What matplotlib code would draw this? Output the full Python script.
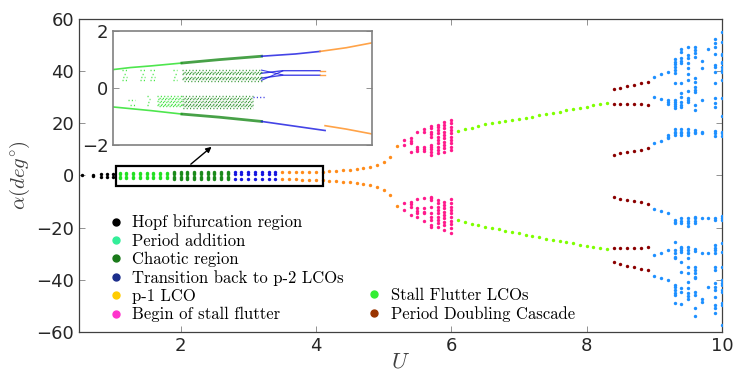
import matplotlib
matplotlib.use('Agg')
import matplotlib.pyplot as plt
from matplotlib.lines import Line2D
from matplotlib.patches import Rectangle

plt.rcParams['font.family'] = 'DejaVu Sans'
plt.rcParams['mathtext.fontset'] = 'cm'

# ---- main bifurcation diagram (one column of alpha values per U) ----
hopf_u = [0.55, 0.7, 0.82, 0.91, 1.0]
hopf_a = [[0.0], [0.2, -0.3], [0.4, -0.5], [0.5, -0.6], [0.6, -0.7]]

add_u = [1.1, 1.2, 1.3, 1.4, 1.5, 1.6, 1.7, 1.8]
add_a = [0.9, 0.45, -0.45, -0.9]

chaos_u = [1.9, 2.0, 2.1, 2.2, 2.3, 2.4, 2.5, 2.6, 2.7]
chaos_a = [1.2, 0.8, 0.4, -0.4, -0.8, -1.2]

trans_u = [2.8, 2.9, 3.0, 3.1, 3.2, 3.3, 3.4]
trans_a = [1.2, 0.6, -1.3]

p1_u = [3.5, 3.6, 3.7, 3.8, 3.9, 4.0, 4.1, 4.2, 4.3, 4.4, 4.5, 4.6, 4.7, 4.8, 4.9, 5.0, 5.1, 5.2]
p1_up = [1.25, 1.28, 1.3, 1.33, 1.37, 1.4, 1.46, 1.6, 1.73, 2.0, 2.2, 2.5, 2.9, 3.4, 4.1, 5.2, 7.2, 11.3]
p1_lo = [-1.4, -1.45, -1.5, -1.55, -1.6, -1.7, -1.85, -2.0, -2.1, -2.4, -2.6, -2.9, -3.2, -3.8, -4.5, -5.7, -7.6, -11.7]

begin_u = [5.3, 5.4, 5.5, 5.6, 5.7, 5.8, 5.9, 6.0]
begin_a = [
    [13.6, 11.6, -10.7, -13.3],
    [14.3, 13.4, 12.4, 9.1, -10.1, -10.9, -12.0, -15.2],
    [16.6, 10.8, 10.1, 9.4, -9.0, -12.6, -13.5, -14.3, -16.1],
    [17.9, 16.8, 10.8, 10.1, 9.4, -8.8, -12.6, -13.9, -14.5, -17.4],
    [19.0, 18.1, 16.8, 15.9, 14.9, 11.7, 11.1, 10.1, 9.1, 7.9,
     -8.1, -8.8, -9.4, -12.0, -14.5, -15.8, -17.1, -19.0, -19.7],
    [19.4, 18.7, 17.5, 16.2, 14.9, 13.6, 12.4, 11.1, 9.8, 8.8,
     -9.4, -10.7, -12.0, -13.3, -14.5, -15.8, -17.1, -18.4, -19.7],
    [20.7, 19.4, 18.1, 16.8, 15.6, 14.3, 13.0, 11.7, 10.4, 9.1,
     -10.1, -11.3, -12.6, -13.9, -15.2, -16.4, -17.7, -19.0, -20.9],
    [21.3, 20.1, 18.7, 17.5, 16.2, 14.9, 13.6, 12.4, 11.1, 9.8,
     -9.1, -10.6, -12.0, -13.3, -14.5, -15.9, -17.3, -18.6, -20.0, -22.2],
]

stall_u = [6.1, 6.2, 6.3, 6.4, 6.5, 6.6, 6.7, 6.8, 6.9, 7.0, 7.1, 7.2, 7.3, 7.4, 7.5, 7.6,
           7.7, 7.8, 7.9, 8.0, 8.1, 8.2, 8.3]
stall_up = [17.1, 17.7, 18.4, 19.0, 19.7, 20.1, 20.4, 20.8, 21.3, 21.7, 22.2, 22.6, 23.1, 23.6,
            24.1, 24.5, 25.0, 25.4, 25.9, 26.4, 27.0, 27.5, 28.0]
stall_lo = [-17.2, -17.9, -18.7, -19.2, -19.7, -20.2, -20.7, -21.2, -21.7, -22.2, -22.7, -23.3,
            -23.8, -24.3, -24.7, -25.2, -25.6, -26.1, -26.6, -27.0, -27.4, -27.9, -28.4]

pd_u = [8.4, 8.5, 8.6, 8.7, 8.8, 8.9]
pd_branches = [
    [33.1, 33.7, 34.4, 34.9, 35.5, 36.0],
    [27.5, 27.6, 27.6, 27.6, 27.5, 27.0],
    [8.0, 8.5, 8.9, 9.4, 9.9, 10.4],
    [-8.4, -8.9, -9.4, -9.9, -10.3, -10.8],
    [-27.9, -28.0, -28.0, -28.0, -27.9, -27.6],
    [-33.3, -34.0, -34.7, -35.3, -35.8, -36.4],
]

blue_u = [9.0, 9.1, 9.2, 9.3, 9.4, 9.5, 9.6, 9.7, 9.8, 9.9, 10.0]
blue_a = [
    [38.0, 30.0, 12.6, -13.0, -30.5, -38.5],
    [38.9, 29.4, 13.3, -13.6, -29.9, -39.3],
    [39.9, 29.0, 28.4, 27.5, 15.6, 14.9, 14.3, -14.5, -28.6, -40.2],
    [44.6, 43.7, 42.8, 41.8, 40.5, 39.5, 35.7, 29.0, 28.4, 27.5, 26.7, 25.8, 17.7, 16.8, 16.2, 15.6,
     -17.1, -17.7, -18.4, -25.4, -28.6, -29.9, -31.2, -31.8, -42.1, -43.0, -44.0, -45.0, -45.9, -48.9],
    [48.5, 47.6, 45.0, 44.1, 43.1, 35.4, 31.6, 30.3, 28.4, 27.1, 26.2, 17.7, 16.8, 16.2, 15.6,
     -16.5, -17.4, -18.4, -27.3, -28.0, -28.6, -29.3, -33.1, -37.0, -43.4, -44.6, -49.4],
    [49.5, 46.3, 45.0, 43.1, 41.2, 39.0, 36.7, 32.6, 29.6, 29.0, 28.4, 17.7, 16.8, 16.2, 15.6,
     -16.5, -17.4, -18.4, -19.4, -27.3, -28.6, -29.9, -31.8, -35.0, -37.6, -40.8, -43.4, -45.3,
     -46.3, -47.6],
    [49.5, 48.2, 47.0, 45.6, 37.3, 36.0, 33.9, 32.8, 32.2, 27.1, 25.1, 17.5, 16.8, 16.2,
     -15.8, -16.5, -17.4, -18.1, -28.4, -28.9, -35.0, -36.3, -37.6, -38.9, -39.5, -44.6, -45.9,
     -51.0, -54.0],
    [44.0, 41.2, 29.0, 16.8, 16.2, -16.5, -29.6, -47.6, -48.5],
    [48.6, -16.5, -29.6, -42.7],
    [52.3, 50.8, 49.5, 46.5, 42.5, 41.8, 39.9, 35.7, 29.6, 27.7, 26.2, 17.2, 16.2, 15.2,
     -16.5, -17.1, -26.7, -28.0, -28.6, -29.9, -35.0, -36.3, -41.2, -43.0, -44.0, -46.6, -49.8,
     -51.0, -53.0],
    [55.0, 51.2, 46.6, 46.3, 43.7, 43.1, 41.8, 40.5, 39.9, 36.7, 29.6, 22.9, 16.8, 16.2, 15.2,
     -15.6, -16.5, -17.1, -26.1, -29.3, -35.3, -40.1, -41.2, -42.1, -44.0, -44.6, -48.9, -49.8,
     -57.4],
]

# ---- inset (zoom of 1.05 < U < 4.1) ----
# branches: (colour key, U, alpha, line width)
inset_curves = [
    ('add', [1.05, 1.25, 1.5, 1.86], [0.65, 0.72, 0.78, 0.88], 1.2),
    ('chaos', [1.86, 2.3, 2.8], [0.88, 1.0, 1.12], 2.0),
    ('trans', [2.8, 3.2, 3.49], [1.12, 1.2, 1.29], 1.2),
    ('p1', [3.49, 3.8, 4.1], [1.29, 1.42, 1.59], 1.2),
    ('add', [1.05, 1.5, 1.86], [-0.67, -0.8, -0.92], 1.2),
    ('chaos', [1.86, 2.3, 2.8], [-0.92, -1.03, -1.18], 2.0),
    ('trans', [2.8, 3.2, 3.55], [-1.18, -1.35, -1.5], 1.2),
    ('p1', [3.55, 3.8, 4.1], [-1.33, -1.45, -1.62], 1.2),
    ('trans', [2.8, 3.05, 3.49], [0.52, 0.61, 0.61], 1.0),
    ('trans', [2.8, 3.05, 3.49], [0.35, 0.45, 0.45], 1.0),
    ('trans', [2.8, 3.05], [0.63, 0.46], 0.8),
    ('trans', [2.8, 3.05], [0.27, 0.6], 0.8),
    ('p1', [3.49, 3.55], [0.61, 0.61], 1.0),
    ('p1', [3.49, 3.55], [0.45, 0.45], 1.0),
]
# speckled bands: (colour key, U start, U end, alpha levels)
inset_bands = [
    ('add', 1.15, 1.21, [0.62, 0.5, 0.38, 0.28]),
    ('add', 1.37, 1.42, [0.62, 0.5, 0.38, 0.28]),
    ('add', 1.48, 1.54, [0.62, 0.5, 0.38, 0.28]),
    ('add', 1.75, 1.80, [0.62, 0.5, 0.38, 0.28]),
    ('chaos', 1.86, 2.8, [0.63, 0.58, 0.53, 0.48, 0.40, 0.35, 0.30, 0.25]),
    ('add', 1.22, 1.31, [-0.43, -0.6]),
    ('add', 1.45, 1.48, [-0.3, -0.4, -0.5, -0.6]),
    ('add', 1.57, 1.86, [-0.3, -0.35, -0.4, -0.45, -0.5, -0.55, -0.6, -0.65]),
    ('chaos', 1.86, 2.7, [-0.3, -0.35, -0.4, -0.45, -0.5, -0.55, -0.6, -0.65, -0.7]),
    ('trans', 2.7, 2.84, [-0.33]),
]

plot_colors = {
    'hopf': '#000000', 'add': '#22e022', 'chaos': '#1a8a1a', 'trans': '#1515e0',
    'p1': '#ff8c1a', 'begin': '#ff1a8c', 'stall': '#7fff00', 'pd': '#8b0000',
    'chaos2': '#1e90ff',
}

legend_labels = ['Hopf bifurcation region', 'Period addition', 'Chaotic region',
                 'Transition back to p-2 LCOs', 'p-1 LCO', 'Begin of stall flutter',
                 'Stall Flutter LCOs', 'Period Doubling Cascade']
legend_colors = ['#000000', '#33ee99', '#1a7a1a', '#1c2e8c', '#ffcc00', '#ff33cc',
                 '#33ee33', '#993300']


def draw_cols(ax, us, cols, color, s=6):
    xs, ys = [], []
    for u, vals in zip(us, cols):
        xs += [u] * len(vals)
        ys += list(vals)
    ax.scatter(xs, ys, s=s, c=color, marker='o', linewidths=0, zorder=3)


fig = plt.figure(figsize=(7.35, 3.76), dpi=100)
ax = fig.add_axes([0.1075, 0.1178, 0.8748, 0.8309])

draw_cols(ax, hopf_u, hopf_a, plot_colors['hopf'], s=6)
draw_cols(ax, add_u, [add_a] * len(add_u), plot_colors['add'])
draw_cols(ax, chaos_u, [chaos_a] * len(chaos_u), plot_colors['chaos'])
draw_cols(ax, trans_u, [trans_a] * len(trans_u), plot_colors['trans'])
draw_cols(ax, p1_u, list(zip(p1_up, p1_lo)), plot_colors['p1'])
draw_cols(ax, begin_u, begin_a, plot_colors['begin'])
draw_cols(ax, stall_u, list(zip(stall_up, stall_lo)), plot_colors['stall'])
draw_cols(ax, pd_u, list(zip(*pd_branches)), plot_colors['pd'])
draw_cols(ax, blue_u, blue_a, plot_colors['chaos2'])

ax.set_xlim(0.5, 10)
ax.set_ylim(-60, 60)
ax.set_xticks([2, 4, 6, 8, 10])
ax.set_yticks([-60, -40, -20, 0, 20, 40, 60])
ax.tick_params(direction='in', top=True, right=True, length=4, width=0.6,
               colors='#808080', labelcolor='#262626', labelsize=13)
for sp in ax.spines.values():
    sp.set_color('#404040')
    sp.set_linewidth(0.9)
ax.set_xlabel(r'$U$', fontsize=16, color='#404040', labelpad=-2)
ax.set_ylabel(r'$\alpha(deg^{\circ})$', fontsize=15, color='#404040', labelpad=3)

# zoom box and arrow
ax.add_patch(Rectangle((1.05, -3.9), 3.05, 7.55, fill=False, ec='black', lw=1.6, zorder=4))
ax.annotate('', xy=(2.49, 11.7), xytext=(2.12, 3.65),
            arrowprops=dict(arrowstyle='-|>', color='black', lw=1.0, mutation_scale=8))

# legend (two blocks, second one bottom aligned)
handles = [Line2D([], [], ls='none', marker='o', ms=5, mfc=c, mec=c) for c in legend_colors]
leg_font = {'family': 'cmr10', 'size': 12}
leg1 = ax.legend(handles[:6], legend_labels[:6], loc='upper left', bbox_to_anchor=(0.044, 0.375),
                 frameon=False, prop=leg_font, handlelength=1.0, handletextpad=0.5,
                 borderpad=0, borderaxespad=0, labelspacing=0.18)
ax.add_artist(leg1)
ax.legend(handles[6:], legend_labels[6:], loc='upper left', bbox_to_anchor=(0.446, 0.141),
          frameon=False, prop=leg_font, handlelength=1.0, handletextpad=0.5,
          borderpad=0, borderaxespad=0, labelspacing=0.18)

# inset
axi = fig.add_axes([0.1541, 0.6152, 0.3516, 0.3016])
for key, us, als, lw in inset_curves:
    axi.plot(us, als, color=plot_colors[key], lw=lw, alpha=0.8)
for key, u0, u1, levels in inset_bands:
    for i, lev in enumerate(levels):
        axi.hlines(lev, u0, u1, colors=plot_colors[key], lw=1.0, alpha=0.85,
                   linestyles=(0.9 * (i % 3), (0.8, 1.6)))
axi.set_xlim(1.05, 4.1)
axi.set_ylim(-2, 2)
axi.set_xticks([])
axi.set_yticks([-2, 0, 2])
axi.tick_params(direction='in', right=True, length=4, width=0.6,
                colors='#808080', labelcolor='#262626', labelsize=13)
for sp in axi.spines.values():
    sp.set_color('#808080')
    sp.set_linewidth(1.2)

fig.savefig('out.png', dpi=100)
